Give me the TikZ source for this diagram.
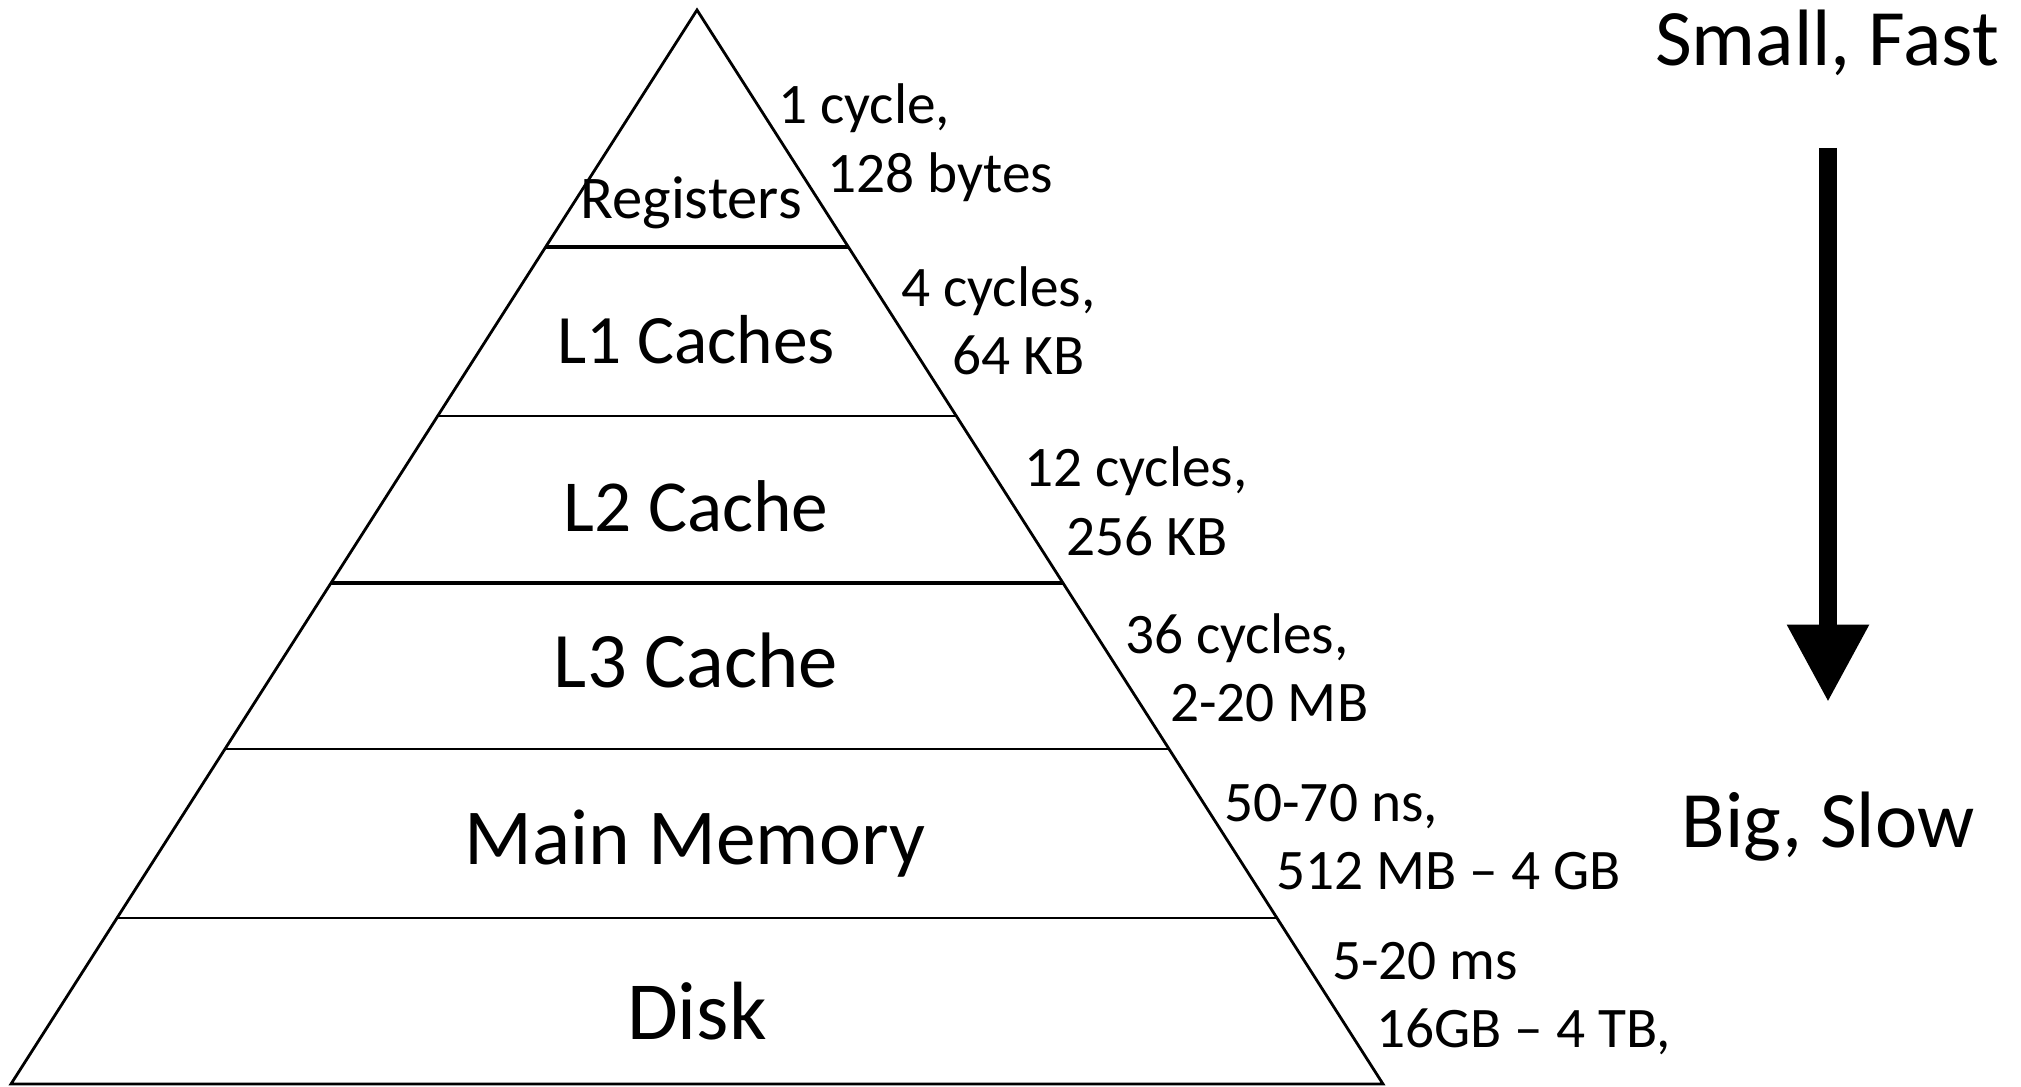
\documentclass[tikz,border=0pt]{standalone}
\usepackage{fontspec}
\setmainfont{Carlito}
\usetikzlibrary{calc,arrows.meta}
\begin{document}
\begin{tikzpicture}[x=0.75pt,y=-0.75pt,
  side/.style={inner sep=0pt, anchor=base west, font=\fontsize{43}{51}\selectfont},
  tier/.style={inner sep=0pt, anchor=base},
  endlabel/.style={inner sep=0pt, anchor=base, font=\fontsize{60}{72}\selectfont},
  edge/.style={line width=2.1pt, line join=miter},
  divider/.style={line width=1.6pt},
  thickdivider/.style={line width=2.6pt}]
\useasboundingbox (0,0) rectangle (2021,1087);
% pyramid
\coordinate (A) at (697,10);
\coordinate (BL) at (11,1084);
\coordinate (BR) at (1383,1084);
\draw[edge] (BL) -- (A) -- (BR) -- cycle;
% dividers
\coordinate (l1) at ($(A)!0.2207!(BL)$); \coordinate (r1) at ($(A)!0.2207!(BR)$);
\coordinate (l2) at ($(A)!0.3780!(BL)$); \coordinate (r2) at ($(A)!0.3780!(BR)$);
\coordinate (l3) at ($(A)!0.5335!(BL)$); \coordinate (r3) at ($(A)!0.5335!(BR)$);
\coordinate (l4) at ($(A)!0.6881!(BL)$); \coordinate (r4) at ($(A)!0.6881!(BR)$);
\coordinate (l5) at ($(A)!0.8454!(BL)$); \coordinate (r5) at ($(A)!0.8454!(BR)$);
\draw[thickdivider] (l1) -- (r1);
\draw[divider] (l2) -- (r2);
\draw[thickdivider] (l3) -- (r3);
\draw[divider] (l4) -- (r4);
\draw[divider] (l5) -- (r5);
% tier labels
\node[tier, font=\fontsize{45.5}{54}\selectfont] (reg) at (691,219) {Registers};
\node[tier, font=\fontsize{52}{62}\selectfont] (l1c) at (696,364) {L1 Caches};
\node[tier, font=\fontsize{55}{66}\selectfont] (l2c) at (696,532) {L2 Cache};
\node[tier, font=\fontsize{59}{70}\selectfont] (l3c) at (696,687) {L3 Cache};
\node[tier, font=\fontsize{59.5}{71}\selectfont] (mm) at (695,864) {Main Memory};
\node[tier, font=\fontsize{62}{74}\selectfont] (disk) at (697,1039) {Disk};
% side labels
\node[side] (s1a) at (778,124) {1 cycle,};
\node[side] (s1b) at (827,193) {128 bytes};
\node[side] (s2a) at (901,307) {4 cycles,};
\node[side] (s2b) at (952,375) {64 KB};
\node[side] (s3a) at (1024,487) {12 cycles,};
\node[side] (s3b) at (1066,555) {256 KB};
\node[side] (s4a) at (1125,653) {36 cycles,};
\node[side] (s4b) at (1170,721) {2-20 MB};
\node[side] (s5a) at (1224,821) {50-70 ns,};
\node[side] (s5b) at (1276,889) {512 MB -- 4 GB};
\node[side] (s6a) at (1332,979) {5-20 ms};
\node[side] (s6b) at (1376,1047) {16GB -- 4 TB,};
% arrow
\node[endlabel] (small) at (1827,66) {Small, Fast};
\node[endlabel] (big) at (1828,847) {Big, Slow};
\coordinate (arrtop) at (1828,148);
\coordinate (arrtip) at (1828,702);
\draw[line width=13pt, -{Triangle[width=58pt,length=58pt]}] (arrtop) -- (arrtip);
\end{tikzpicture}
\end{document}
